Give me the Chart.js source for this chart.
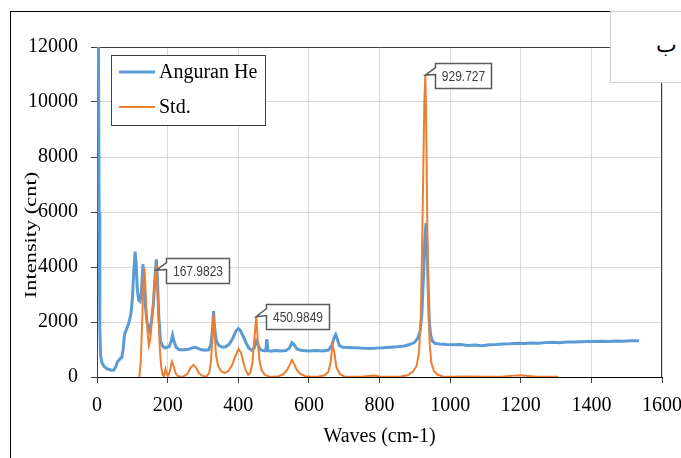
<!DOCTYPE html>
<html>
<head>
<meta charset="utf-8">
<script src="https://cdn.jsdelivr.net/npm/chart.js@4.4.0/dist/chart.umd.min.js"></script>
<style>
  html, body { margin: 0; padding: 0; background: #fff; overflow: hidden; }
  #wrap { position: relative; width: 681px; height: 458px; }
  #frame { position: absolute; left: 10px; top: 11px; width: 700px; height: 500px; border: 1px solid #000; }
  #tag { position: absolute; left: 610px; top: 11px; width: 80px; height: 70px; background: #fff;
         border: 1px solid #d0d0d0; font: 22px 'Liberation Serif', 'DejaVu Serif', serif; z-index: 2; }
  #tag span { position: absolute; left: 45px; top: 20px; }
  canvas { position: absolute; left: 0; top: 0; z-index: 1; }
</style>
</head>
<body>
<div id="wrap">
  <div id="frame"></div>
  <canvas id="ramanChart" width="681" height="458"></canvas>
  <div id="tag"><span>ب</span></div>
</div>
<script>
// Raman spectra
const waveHe = [2, 4, 6, 8, 10, 14, 20, 30, 40, 48, 54, 58, 62, 66, 70, 74, 78, 84, 90, 96,
  100, 104, 108, 111, 114, 118, 122, 126, 130, 133, 137, 142, 148, 154, 160, 164, 168, 171, 175, 180,
  186, 192, 198, 204, 210, 214, 218, 224, 232, 240, 250, 260, 270, 278, 286, 296, 306, 316, 322, 327,
  330, 333, 338, 345, 355, 365, 375, 385, 393, 400, 406, 414, 422, 430, 438, 445, 451, 455, 462, 470,
  478, 481, 484, 492, 505, 520, 535, 545, 552, 558, 566, 580, 600, 620, 640, 655, 665, 672, 676, 680,
  686, 695, 710, 730, 750, 770, 790, 810, 830, 850, 870, 885, 898, 908, 915, 920, 925, 929, 932, 935,
  938, 941, 945, 950, 958, 970, 990, 1010, 1030, 1050, 1070, 1090, 1110, 1130, 1150, 1170, 1190, 1210, 1230, 1250,
  1270, 1290, 1310, 1330, 1350, 1370, 1390, 1410, 1430, 1450, 1470, 1490, 1510, 1535];
const intensityHe = [13000, 12500, 6000, 1800, 800, 520, 380, 290, 250, 255, 400, 560, 600, 680, 700, 1000, 1550, 1750, 1950, 2300,
  2800, 3800, 4560, 4100, 3200, 2800, 2750, 3100, 4100, 3700, 2600, 1950, 1700, 2000, 2700, 3600, 4280, 3600, 2200, 1300,
  1120, 1050, 1080, 1100, 1300, 1520, 1300, 1080, 1000, 980, 1000, 1010, 1060, 1080, 1040, 990, 970, 990, 1150, 1700,
  2400, 1800, 1300, 1150, 1080, 1100, 1200, 1420, 1660, 1760, 1700, 1480, 1250, 1050, 980, 1050, 1300, 1200, 1000, 960,
  950, 1380, 960, 940, 960, 950, 960, 1050, 1250, 1180, 1020, 960, 950, 960, 950, 980, 1150, 1450, 1540, 1400,
  1150, 1080, 1070, 1060, 1050, 1040, 1050, 1060, 1080, 1100, 1130, 1180, 1250, 1400, 1650, 2300, 3800, 5200, 5600, 4600,
  3200, 2000, 1500, 1300, 1220, 1200, 1180, 1170, 1180, 1150, 1160, 1140, 1170, 1180, 1200, 1210, 1230, 1220, 1240, 1230,
  1250, 1260, 1250, 1270, 1270, 1280, 1290, 1290, 1300, 1290, 1310, 1300, 1320, 1320];

const waveStd = [120, 124, 128, 131, 134, 137, 140, 144, 147, 151, 156, 161, 165, 167.9823, 171, 174, 178, 182, 186, 190,
  194, 197, 201, 206, 212, 217, 222, 228, 236, 246, 256, 265, 273, 280, 288, 298, 310, 318, 323, 327,
  330, 333, 337, 343, 352, 362, 372, 382, 392, 401, 408, 415, 422, 428, 434, 440, 445, 450.9849, 455, 460,
  466, 475, 486, 500, 515, 528, 538, 546, 552, 558, 566, 576, 590, 608, 628, 645, 655, 661, 667, 672,
  678, 688, 700, 720, 750, 770, 785, 800, 830, 860, 880, 895, 905, 912, 917, 921, 924, 927, 929.727, 932,
  935, 938, 942, 947, 955, 965, 980, 1000, 1050, 1100, 1150, 1180, 1200, 1220, 1240, 1270, 1306];
const intensityStd = [0, 600, 2000, 3300, 3960, 3300, 2300, 1500, 1150, 1400, 2100, 3000, 3700, 3890, 3400, 2300, 1000, 350, 80, 30,
  290, 150, 30, 200, 560, 400, 150, 40, 10, 30, 120, 330, 440, 350, 150, 40, 20, 150, 600, 1500,
  2290, 1600, 800, 400, 200, 150, 220, 420, 760, 1020, 880, 500, 220, 80, 150, 500, 1300, 2190, 1400, 600,
  250, 80, 20, 10, 30, 100, 250, 450, 620, 480, 250, 110, 30, 10, 20, 60, 180, 500, 1160, 900,
  350, 100, 20, 5, 10, 40, 50, 20, 10, 20, 60, 200, 400, 900, 2200, 5000, 7500, 10000, 10980, 9500,
  6000, 3000, 1200, 500, 200, 80, 20, 10, 15, 10, 20, 50, 60, 40, 15, 10, 10];

// peaks that carry a callout label
const peakLabels = [167.9823, 450.9849, 929.727];

const xTicks = [0, 200, 400, 600, 800, 1000, 1200, 1400, 1600];
const yTicks = [0, 2000, 4000, 6000, 8000, 10000, 12000];

const serif = "'Liberation Serif', 'Times New Roman', serif";

function toPoints(xs, ys) {
    return xs.map((x, i) => ({ x: x, y: ys[i] }));
}

// plot area border (top + right)
const plotBorder = {
    id: 'plotBorder',
    beforeDatasetsDraw(chart) {
        const { ctx, chartArea: a } = chart;
        ctx.save();
        ctx.strokeStyle = '#404040';
        ctx.lineWidth = 1;
        ctx.beginPath();
        ctx.moveTo(a.left, a.top + 0.5);
        ctx.lineTo(a.right - 0.5, a.top + 0.5);
        ctx.lineTo(a.right - 0.5, a.bottom);
        ctx.stroke();
        ctx.restore();
    }
};

// y axis title, drawn by hand: Excel stretched it along the axis
const yTitle = {
    id: 'yTitle',
    afterDraw(chart) {
        const { ctx, chartArea: a } = chart;
        ctx.save();
        ctx.translate(31, (a.top + a.bottom) / 2 + 23);
        ctx.rotate(-Math.PI / 2);
        ctx.scale(1.12, 0.86);
        ctx.font = '20px ' + serif;
        ctx.fillStyle = '#000';
        ctx.textAlign = 'center';
        ctx.textBaseline = 'middle';
        ctx.fillText('Intensity (cnt)', 0, 0);
        ctx.restore();
    }
};

// Excel style callouts on the Std. peaks
const callouts = {
    id: 'callouts',
    afterDatasetsDraw(chart) {
        const { ctx, scales } = chart;
        ctx.save();
        ctx.font = "15px 'Liberation Sans', Arial, sans-serif";
        const squeeze = 0.8;
        peakLabels.forEach(w => {
            const i = waveStd.indexOf(w);
            const px = scales.x.getPixelForValue(waveStd[i]);
            const py = scales.y.getPixelForValue(intensityStd[i]);
            const text = String(w);
            const bw = Math.round(ctx.measureText(text).width * squeeze + 13);
            const bh = 25;
            const bx = Math.round(px + 10) + 0.5;
            const by = Math.round(py - bh / 2) + 0.5;
            ctx.beginPath();
            ctx.moveTo(bx, by);
            ctx.lineTo(bx + bw, by);
            ctx.lineTo(bx + bw, by + bh);
            ctx.lineTo(bx, by + bh);
            ctx.lineTo(bx, by + 11);
            ctx.lineTo(px, py);
            ctx.lineTo(bx, by + 4);
            ctx.closePath();
            ctx.fillStyle = '#fff';
            ctx.fill();
            ctx.strokeStyle = '#595959';
            ctx.lineWidth = 1.5;
            ctx.stroke();
            ctx.save();
            ctx.translate(bx + bw / 2, by + bh / 2 + 1);
            ctx.scale(squeeze, 1);
            ctx.fillStyle = '#404040';
            ctx.textAlign = 'center';
            ctx.textBaseline = 'middle';
            ctx.fillText(text, 0, 0);
            ctx.restore();
        });
        ctx.restore();
    }
};

// legend box inside the plot area
const boxLegend = {
    id: 'boxLegend',
    afterDraw(chart) {
        const { ctx, chartArea: a } = chart;
        const x = a.left + 14, y = a.top + 8;
        ctx.save();
        ctx.fillStyle = '#fff';
        ctx.fillRect(x, y, 154, 70);
        ctx.strokeStyle = '#404040';
        ctx.lineWidth = 1;
        ctx.strokeRect(x + 0.5, y + 0.5, 154, 70);
        ctx.font = '20px ' + serif;
        ctx.textBaseline = 'middle';
        chart.data.datasets.forEach((ds, k) => {
            const ly = y + 17 + k * 35;
            ctx.strokeStyle = ds.borderColor;
            ctx.lineWidth = ds.borderWidth;
            ctx.beginPath();
            ctx.moveTo(x + 8, ly);
            ctx.lineTo(x + 44, ly);
            ctx.stroke();
            ctx.fillStyle = '#000';
            ctx.fillText(ds.label, x + 48, ly + 1);
        });
        ctx.restore();
    }
};

const ctx = document.getElementById('ramanChart').getContext('2d');

new Chart(ctx, {
    type: 'scatter',
    data: {
        datasets: [{
            label: 'Anguran He',
            data: toPoints(waveHe, intensityHe),
            borderColor: '#5B9BD5',
            borderWidth: 3,
            showLine: true,
            pointRadius: 0,
            order: 1
        }, {
            label: 'Std.',
            data: toPoints(waveStd, intensityStd),
            borderColor: '#ED7D31',
            borderWidth: 2,
            showLine: true,
            pointRadius: 0,
            order: 0
        }]
    },
    options: {
        responsive: false,
        animation: false,
        devicePixelRatio: 1,
        layout: { padding: { left: 10, top: 47, right: 19, bottom: 0 } },
        plugins: { legend: { display: false }, tooltip: { enabled: false } },
        scales: {
            x: {
                type: 'linear',
                min: 0,
                max: 1600,
                afterBuildTicks: s => { s.ticks = xTicks.map(v => ({ value: v })); },
                afterFit: s => { s.height = 81; s.paddingLeft = 0; s.paddingRight = 0; },
                ticks: { font: { family: serif, size: 20 }, color: '#000', padding: 11, maxRotation: 0,
                         callback: v => String(v) },
                grid: { color: '#d9d9d9', tickColor: '#404040', tickLength: 6 },
                border: { color: '#000', width: 1 },
                title: { display: true, text: 'Waves (cm-1)', font: { family: serif, size: 20 }, color: '#000', padding: { bottom: 9 } }
            },
            y: {
                min: 0,
                max: 12000,
                afterBuildTicks: s => { s.ticks = yTicks.map(v => ({ value: v })); },
                afterFit: s => { s.width = 87; s.paddingTop = 0; s.paddingBottom = 0; },
                ticks: { font: { family: serif, size: 20 }, color: '#000', padding: 13,
                         callback: v => String(v) },
                grid: { color: '#d9d9d9', tickColor: '#404040', tickLength: 6 },
                border: { color: '#404040', width: 1 }
            }
        }
    },
    plugins: [plotBorder, yTitle, callouts, boxLegend]
});
</script>
</body>
</html>
